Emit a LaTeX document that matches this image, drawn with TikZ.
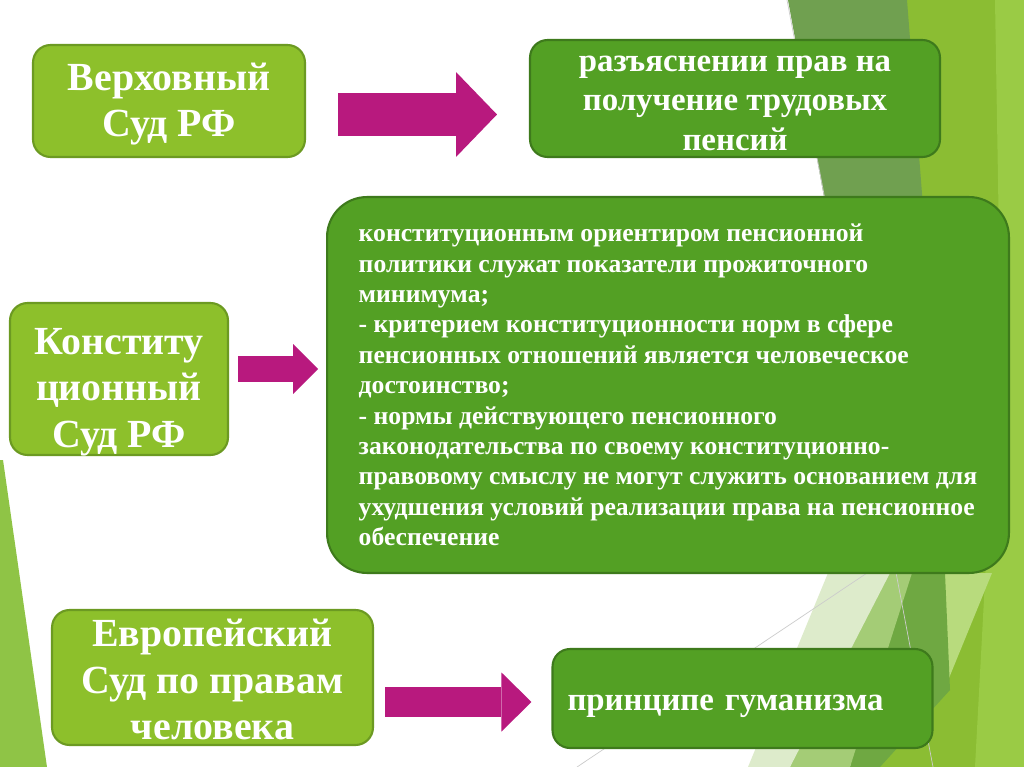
\documentclass[tikz,border=0pt]{standalone}
\usepackage{fontspec}
\setmainfont{Liberation Serif}
\usetikzlibrary{arrows.meta}

\definecolor{lightbox}{HTML}{8DC02B}
\definecolor{lightedge}{HTML}{6C9A22}
\definecolor{darkbox}{HTML}{53A024}
\definecolor{darkedge}{HTML}{3E7A1C}
\definecolor{arrowmag}{HTML}{B8197E}
\definecolor{facetmuted}{HTML}{70A050}
\definecolor{facetyg}{HTML}{8BBD33}
\definecolor{facetbright}{HTML}{9ACB45}
\definecolor{facetpale}{HTML}{DDEBCB}
\definecolor{facetmid}{HTML}{A4CC76}
\definecolor{facetdark}{HTML}{6FA842}
\definecolor{facetleft}{HTML}{8FC446}

\tikzset{
  court/.style={draw=lightedge,fill=lightbox,line width=1.2pt,rounded corners=0.35cm,
    text=white,align=center,inner sep=0pt,text depth=0pt,
    font=\fontsize{22.7}{26.6}\selectfont\bfseries},
  ruling/.style={draw=darkedge,fill=darkbox,line width=1.2pt,rounded corners=0.35cm,
    text=white,inner sep=0pt,font=\fontsize{18.7}{22.7}\selectfont\bfseries},
  blockarrow/.style n args={3}{draw=arrowmag,line width=#1,
    -{Triangle[length=#2,width=#3,line width=0pt]}},
  facetline/.style={draw=black!20,line width=0.4pt}
}

\begin{document}
\begin{tikzpicture}[x=0.02cm,y=-0.02cm]
  \useasboundingbox (0,0) rectangle (1024,767);
  \fill[white] (0,0) rectangle (1024,767);

  % background facets
  \fill[facetleft] (0,460) -- (3,460) -- (47,767) -- (0,767) -- cycle;
  \fill[facetyg] (905,0) -- (1024,0) -- (1024,767) -- (860,767) -- cycle;
  \fill[facetbright] (995,0) -- (1024,0) -- (1024,767) -- (975,767) -- (1000,300) -- cycle;
  \fill[facetmuted] (788,0) -- (907,0) -- (955,620) -- (905,640) -- cycle;
  \fill[facetbright!70!white] (941,573) -- (992,573) -- (940,700) -- cycle;
  \fill[facetdark] (895,573) -- (945,573) -- (950,690) -- (880,767) -- (850,767) -- cycle;
  \fill[facetmid] (870,573) -- (912,573) -- (850,767) -- (790,767) -- cycle;
  \fill[facetpale] (828,573) -- (890,573) -- (790,767) -- (748,767) -- cycle;
  \draw[facetline] (577,767) -- (867,573);
  \draw[facetline] (787,0) -- (933,767);

  % courts and rulings
  \node[court,text height=40.8pt,minimum width=5.44cm,minimum height=2.24cm] (vs) at (169,101)
    {Верховный\\Суд РФ};
  \node[ruling,align=center,text height=59.5pt,text depth=0pt,minimum width=8.2cm,
    minimum height=2.34cm] (rt) at (735,98.5)
    {разъяснении прав на\\получение трудовых\\пенсий};
  \node[court,text height=78.2pt,minimum width=4.36cm,minimum height=3.04cm] (ks) at (119,379)
    {Конститу\\ционный\\Суд РФ};
  \node[ruling,align=left,rounded corners=0.8cm,minimum width=13.64cm,minimum height=7.52cm,
    font=\fontsize{14.6}{17.3}\selectfont\bfseries] (big) at (668,385)
    {конституционным ориентиром пенсионной\\
     политики служат показатели прожиточного\\
     минимума;\\
     - критерием конституционности норм в сфере\\
     пенсионных отношений является человеческое\\
     достоинство;\\
     - нормы действующего пенсионного\\
     законодательства по своему конституционно-\\
     правовому смыслу не могут служить основанием для\\
     ухудшения условий реализации права на пенсионное\\
     обеспечение};
  \node[court,text height=70.9pt,minimum width=6.42cm,minimum height=2.7cm] (eu) at (212.5,677.5)
    {Европейский\\Суд по правам\\человека};
  \node[ruling,align=left,text width=7.0cm,text height=13.6pt,text depth=0pt,
    minimum width=7.6cm,minimum height=1.98cm] (pg)
    at (742.5,698.5) {принципе гуманизма};

  % arrows
  \draw[blockarrow={0.86cm}{0.82cm}{1.70cm}] ([shift={(32,13.5)}]vs.east) -- ([shift={(-32,16)}]rt.west);
  \draw[blockarrow={0.52cm}{0.5cm}{1.0cm}] ([shift={(9,-10)}]ks.east) -- ([shift={(-8,-16)}]big.west);
  \draw[blockarrow={0.6cm}{0.6cm}{1.18cm}] ([shift={(11,24.5)}]eu.east) -- ([shift={(-20,3.5)}]pg.west);
\end{tikzpicture}
\end{document}
